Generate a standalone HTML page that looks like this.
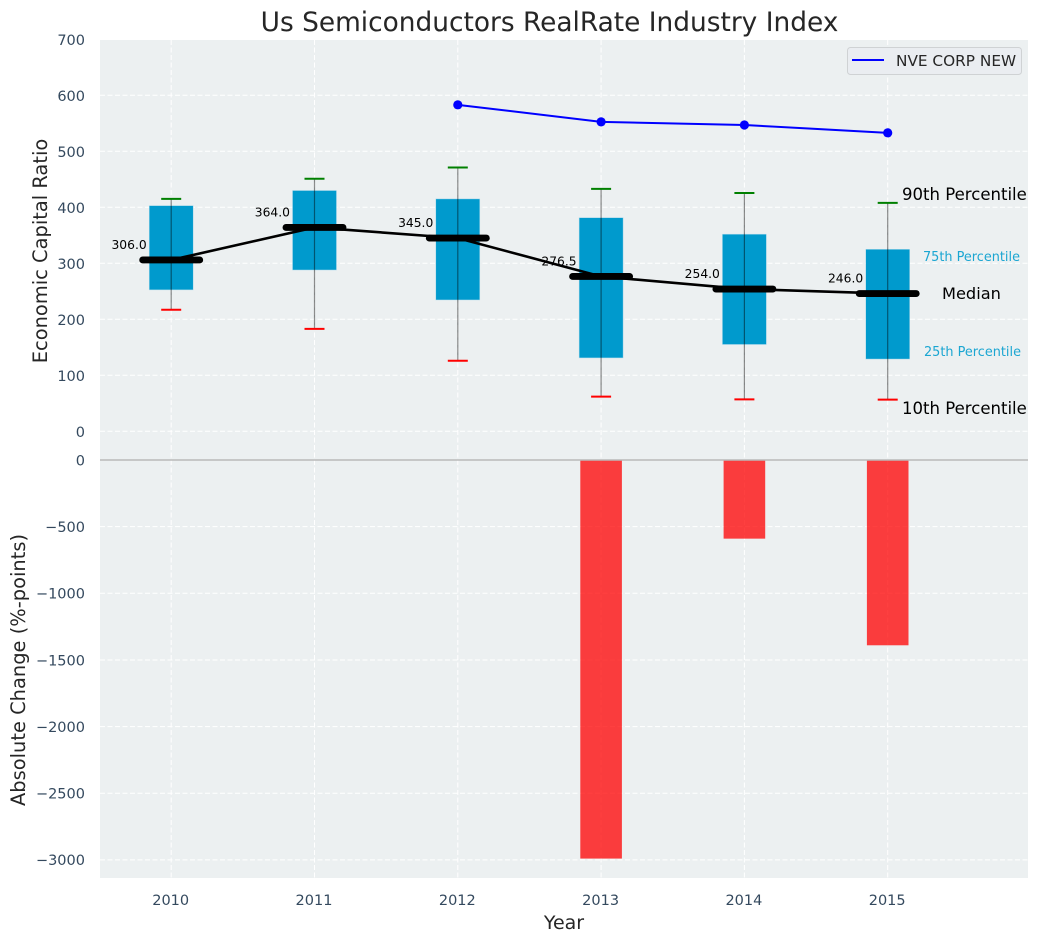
<!DOCTYPE html>
<html lang="en">
<head>
<meta charset="utf-8">
<title>Us Semiconductors RealRate Industry Index</title>
<style>
html,body{margin:0;padding:0;background:#fff;width:1039px;height:942px;overflow:hidden}
svg{display:block;font-family:"DejaVu Sans","Liberation Sans",sans-serif}
</style>
</head>
<body>
<svg id="chart" width="1039" height="942" viewBox="0 0 1039 942" xmlns="http://www.w3.org/2000/svg">
  <rect x="100" y="40" width="928" height="838" fill="#ecf0f1"/>
  <g id="grid"></g>
  <g id="bars"></g>
  <line x1="100" x2="1028" y1="460" y2="460" stroke="#b9b9b9" stroke-width="1.5"/>
  <g id="boxes"></g>
  <g id="series"></g>
  <g id="ticks"></g>
  <text x="549.5" y="31" text-anchor="middle" font-size="26.4" fill="#262626">Us Semiconductors RealRate Industry Index</text>
  <text transform="translate(47,251) rotate(-90)" text-anchor="middle" font-size="19.45" fill="#262626">Economic Capital Ratio</text>
  <text transform="translate(25,670) rotate(-90)" text-anchor="middle" font-size="19.45" fill="#262626">Absolute Change (%-points)</text>
  <text x="564" y="929" text-anchor="middle" font-size="19" fill="#262626">Year</text>
  <text x="902" y="200" font-size="16.55" fill="#000">90th Percentile</text>
  <text x="923" y="261" font-size="12.85" fill="#1ba6d2">75th Percentile</text>
  <text x="942" y="299" font-size="16.2" fill="#000">Median</text>
  <text x="924" y="356" font-size="12.85" fill="#1ba6d2">25th Percentile</text>
  <text x="902" y="414" font-size="16.55" fill="#000">10th Percentile</text>
  <g>
    <rect x="847.5" y="47.5" width="174" height="27" rx="3" fill="#eaedf1" stroke="#cfd2d4" stroke-width="1"/>
    <line x1="852" x2="884" y1="60" y2="60" stroke="#0000ff" stroke-width="2"/>
    <text x="896" y="66" font-size="15.3" fill="#262626">NVE CORP NEW</text>
  </g>
</svg>
<script>
const years = [2010, 2011, 2012, 2013, 2014, 2015];
const medians = [306, 364, 345, 276.5, 254, 246];
const q75 = [403, 430, 415, 381.5, 352, 325];
const q25 = [252.5, 288, 234.5, 131, 155, 129];
const p90 = [415, 451, 471, 433, 425.5, 408];
const p10 = [217, 183, 126, 62, 57, 56.5];
const companyYears = [2012, 2013, 2014, 2015];
const companyValues = [583, 552.5, 547, 533];
const changeYears = [2013, 2014, 2015];
const changeValues = [-2990, -590, -1390];
const topTicks = [0, 100, 200, 300, 400, 500, 600, 700];
const bottomTicks = [0, -500, -1000, -1500, -2000, -2500, -3000];

const NS = 'http://www.w3.org/2000/svg';
const x = function (year) { return 171.2 + (year - 2010) * 143.3; };
const yTop = function (v) { return 431.3 - v * 0.56; };
const yBottom = function (v) { return 460 - v * 0.1333; };

function make(parent, tag, attrs, text) {
  const el = document.createElementNS(NS, tag);
  Object.keys(attrs).forEach(function (k) { el.setAttribute(k, attrs[k]); });
  if (text !== undefined) el.textContent = text;
  document.getElementById(parent).appendChild(el);
  return el;
}

const gridStyle = { stroke: '#ffffff', 'stroke-width': 1, 'stroke-dasharray': '5 2.5' };
years.forEach(function (year) {
  const gv = make('grid', 'line', Object.assign({ x1: x(year), x2: x(year), y1: 40, y2: 878 }, gridStyle));
  
  
});
topTicks.forEach(function (t) {
  const gh = make('grid', 'line', Object.assign({ x1: 100, x2: 1028, y1: yTop(t), y2: yTop(t) }, gridStyle));
  
  
  const lab = make('ticks', 'text', { x: 85, y: yTop(t) + 5.8, 'text-anchor': 'end', 'font-size': 14.5, fill: '#34495e' }, String(t));
  
  
});
bottomTicks.forEach(function (t) {
  const gh = make('grid', 'line', Object.assign({ x1: 100, x2: 1028, y1: yBottom(t), y2: yBottom(t) }, gridStyle));
  
  
  const lab = make('ticks', 'text', { x: 85, y: yBottom(t) + 5.3, 'text-anchor': 'end', 'font-size': 14.5, fill: '#34495e' }, String(t).replace('-', '\u2212'));
  
  
});
years.forEach(function (year) {
  const lab = make('ticks', 'text', { x: x(year) - 0.5, y: 905, 'text-anchor': 'middle', 'font-size': 14.5, fill: '#34495e' }, String(year));
  
  
});

changeYears.forEach(function (year, i) {
  const top = yBottom(0);
  const bottom = yBottom(changeValues[i]);
  const bar = make('bars', 'rect', { x: x(year) - 20.8, y: top, width: 41.6, height: bottom - top, fill: '#ff0000', 'fill-opacity': 0.75 });
  
  
});

years.forEach(function (year, i) {
  const cx = x(year);
  const box = make('boxes', 'rect', { x: cx - 22, y: yTop(q75[i]), width: 44, height: yTop(q25[i]) - yTop(q75[i]), fill: '#009acd', stroke: '#b5dcec', 'stroke-width': 0.5 });
  
  
  const whisker = make('boxes', 'line', { x1: cx, x2: cx, y1: yTop(p90[i]), y2: yTop(p10[i]), stroke: '#000', 'stroke-opacity': 0.45, 'stroke-width': 1.2 });
  
  
  const capHigh = make('boxes', 'line', { x1: cx - 10, x2: cx + 10, y1: yTop(p90[i]), y2: yTop(p90[i]), stroke: '#008000', 'stroke-width': 2 });
  
  
  const capLow = make('boxes', 'line', { x1: cx - 10, x2: cx + 10, y1: yTop(p10[i]), y2: yTop(p10[i]), stroke: '#ff0000', 'stroke-width': 2 });
  
  
});

const medianPath = medians.map(function (m, i) { return x(years[i]) + ',' + yTop(m); }).join(' ');
const medianLine = make('boxes', 'polyline', { points: medianPath, fill: 'none', stroke: '#000', 'stroke-width': 2.6 });



years.forEach(function (year, i) {
  const cx = x(year);
  const bar = make('boxes', 'line', { x1: cx - 28.5, x2: cx + 28.5, y1: yTop(medians[i]), y2: yTop(medians[i]), stroke: '#000', 'stroke-width': 6.9, 'stroke-linecap': 'round' });
  
  
  const lab = make('boxes', 'text', { x: cx - 24.5, y: yTop(medians[i]) - 11, 'text-anchor': 'end', 'font-size': 12.3, fill: '#000' }, medians[i].toFixed(1));
  
  
});

const companyPath = companyValues.map(function (v, i) { return x(companyYears[i]) + ',' + yTop(v); }).join(' ');
const companyLine = make('series', 'polyline', { points: companyPath, fill: 'none', stroke: '#0000ff', 'stroke-width': 2 });


companyValues.forEach(function (v, i) {
  const dot = make('series', 'circle', { cx: x(companyYears[i]), cy: yTop(v), r: 4.6, fill: '#0000ff' });
  
  
});
</script>
</body>
</html>
